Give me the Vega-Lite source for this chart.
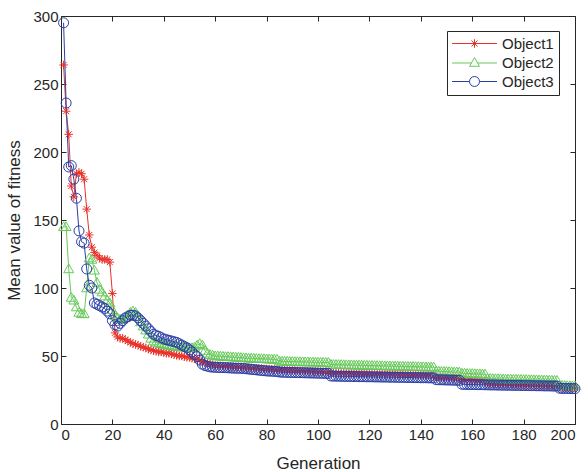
{
"$schema": "https://vega.github.io/schema/vega-lite/v6.json",
"width": 514, "height": 408,
"autosize": "none",
"padding": {"left": 61, "top": 16, "right": 13, "bottom": 48},
"background": "white",
"config": {
  "view": {"stroke": "#262626", "strokeWidth": 1},
  "font": "Liberation Sans",
  "axis": {"grid": false, "domain": false, "tickSize": -5, "tickColor": "#262626", "labelColor": "#262626", "labelFontSize": 15, "titleFontSize": 17, "titleFontWeight": "normal", "titleColor": "#262626", "labelFont": "Liberation Sans", "titleFont": "Liberation Sans"},
  "legend": {"title": null, "orient": "none", "legendX": 386, "legendY": 15, "fillColor": "white", "strokeColor": "#262626", "padding": 5, "labelFontSize": 15, "labelColor": "#262626", "symbolSize": 100, "symbolStrokeWidth": 1, "symbolOpacity": 1, "symbolOffset": 15, "labelOffset": 20, "rowPadding": 3, "cornerRadius": 0}
},
"data": {"values": [
{"g":1,"Object1":264,"Object2":145,"Object3":295},
{"g":2,"Object1":230,"Object2":145,"Object3":236},
{"g":3,"Object1":213,"Object2":114,"Object3":189},
{"g":4,"Object1":175,"Object2":93,"Object3":190},
{"g":5,"Object1":167,"Object2":91,"Object3":180},
{"g":6,"Object1":184,"Object2":86,"Object3":166},
{"g":7,"Object1":185,"Object2":82,"Object3":142},
{"g":8,"Object1":184,"Object2":81,"Object3":134},
{"g":9,"Object1":180,"Object2":81,"Object3":133},
{"g":10,"Object1":158,"Object2":100,"Object3":114},
{"g":11,"Object1":139,"Object2":122,"Object3":102},
{"g":12,"Object1":130,"Object2":121,"Object3":100},
{"g":13,"Object1":126,"Object2":113,"Object3":89},
{"g":14,"Object1":124,"Object2":104,"Object3":88},
{"g":15,"Object1":122,"Object2":99,"Object3":87},
{"g":16,"Object1":121,"Object2":97,"Object3":86},
{"g":17,"Object1":121,"Object2":94,"Object3":85},
{"g":18,"Object1":121,"Object2":91,"Object3":83},
{"g":19,"Object1":119,"Object2":89,"Object3":81},
{"g":20,"Object1":96,"Object2":84,"Object3":76},
{"g":21,"Object1":67,"Object2":80,"Object3":73},
{"g":22,"Object1":64,"Object2":78,"Object3":72},
{"g":23,"Object1":63,"Object2":77,"Object3":74},
{"g":24,"Object1":63,"Object2":77,"Object3":76},
{"g":25,"Object1":62,"Object2":78,"Object3":78},
{"g":26,"Object1":61,"Object2":80,"Object3":79},
{"g":27,"Object1":60,"Object2":82,"Object3":80},
{"g":28,"Object1":59,"Object2":83,"Object3":80},
{"g":29,"Object1":58.5,"Object2":82,"Object3":79.5},
{"g":30,"Object1":58,"Object2":79,"Object3":78},
{"g":31,"Object1":57,"Object2":75,"Object3":76},
{"g":32,"Object1":56.5,"Object2":72,"Object3":74},
{"g":33,"Object1":56,"Object2":69,"Object3":72},
{"g":34,"Object1":55,"Object2":66,"Object3":70},
{"g":35,"Object1":54.5,"Object2":63,"Object3":68},
{"g":36,"Object1":54,"Object2":61,"Object3":66},
{"g":37,"Object1":53.5,"Object2":60,"Object3":65},
{"g":38,"Object1":53,"Object2":59.5,"Object3":64.5},
{"g":39,"Object1":53,"Object2":59,"Object3":63.5},
{"g":40,"Object1":52.5,"Object2":58.5,"Object3":62.5},
{"g":41,"Object1":52,"Object2":58,"Object3":62},
{"g":42,"Object1":52,"Object2":58,"Object3":61.5},
{"g":43,"Object1":51.5,"Object2":57.5,"Object3":61},
{"g":44,"Object1":51,"Object2":57,"Object3":60.5},
{"g":45,"Object1":50.5,"Object2":57,"Object3":60},
{"g":46,"Object1":50,"Object2":57,"Object3":59},
{"g":47,"Object1":50,"Object2":56.5,"Object3":58},
{"g":48,"Object1":49.5,"Object2":56.5,"Object3":57},
{"g":49,"Object1":49,"Object2":56,"Object3":56},
{"g":50,"Object1":49,"Object2":56,"Object3":54.5},
{"g":51,"Object1":48.5,"Object2":56,"Object3":53},
{"g":52,"Object1":48,"Object2":56.5,"Object3":51},
{"g":53,"Object1":47.5,"Object2":58,"Object3":49.5},
{"g":54,"Object1":47,"Object2":59,"Object3":47},
{"g":55,"Object1":46,"Object2":58,"Object3":44},
{"g":56,"Object1":45,"Object2":54,"Object3":43},
{"g":57,"Object1":44.5,"Object2":52,"Object3":42.5},
{"g":58,"Object1":44,"Object2":51,"Object3":42},
{"g":59,"Object1":43.5,"Object2":50.5,"Object3":41.8},
{"g":60,"Object1":43,"Object2":50,"Object3":41.7},
{"g":61,"Object1":43,"Object2":50,"Object3":41.6},
{"g":62,"Object1":42.8,"Object2":49.8,"Object3":41.5},
{"g":63,"Object1":42.7,"Object2":49.7,"Object3":41.5},
{"g":64,"Object1":42.5,"Object2":49.5,"Object3":41.4},
{"g":65,"Object1":42.5,"Object2":49.5,"Object3":41.3},
{"g":66,"Object1":42.3,"Object2":49.3,"Object3":41.2},
{"g":67,"Object1":42.2,"Object2":49.2,"Object3":41.1},
{"g":68,"Object1":42,"Object2":49,"Object3":41},
{"g":69,"Object1":42,"Object2":49,"Object3":41},
{"g":70,"Object1":41.8,"Object2":48.8,"Object3":40.9},
{"g":71,"Object1":41.5,"Object2":48.6,"Object3":40.8},
{"g":72,"Object1":41.5,"Object2":48.5,"Object3":40.6},
{"g":73,"Object1":41.3,"Object2":48.4,"Object3":40.4},
{"g":74,"Object1":41.2,"Object2":48.3,"Object3":40.2},
{"g":75,"Object1":41,"Object2":48.2,"Object3":40},
{"g":76,"Object1":41,"Object2":48.1,"Object3":39.8},
{"g":77,"Object1":40.8,"Object2":48,"Object3":39.6},
{"g":78,"Object1":40.7,"Object2":48,"Object3":39.4},
{"g":79,"Object1":40.5,"Object2":47.9,"Object3":39.2},
{"g":80,"Object1":40.5,"Object2":47.8,"Object3":39},
{"g":81,"Object1":40.4,"Object2":47.7,"Object3":38.9},
{"g":82,"Object1":40.3,"Object2":47.6,"Object3":38.8},
{"g":83,"Object1":40.2,"Object2":47.5,"Object3":38.7},
{"g":84,"Object1":40,"Object2":47.5,"Object3":38.6},
{"g":85,"Object1":40,"Object2":46.2,"Object3":38.2},
{"g":86,"Object1":39.8,"Object2":46.1,"Object3":38.1},
{"g":87,"Object1":39.7,"Object2":46,"Object3":38},
{"g":88,"Object1":39.6,"Object2":46,"Object3":38},
{"g":89,"Object1":39.5,"Object2":45.9,"Object3":37.9},
{"g":90,"Object1":39.5,"Object2":45.9,"Object3":37.9},
{"g":91,"Object1":39.4,"Object2":45.8,"Object3":37.8},
{"g":92,"Object1":39.3,"Object2":45.8,"Object3":37.8},
{"g":93,"Object1":39.2,"Object2":45.7,"Object3":37.7},
{"g":94,"Object1":39,"Object2":45.7,"Object3":37.7},
{"g":95,"Object1":39,"Object2":45.6,"Object3":37.6},
{"g":96,"Object1":38.9,"Object2":45.6,"Object3":37.6},
{"g":97,"Object1":38.8,"Object2":45.5,"Object3":37.5},
{"g":98,"Object1":38.7,"Object2":45.5,"Object3":37.5},
{"g":99,"Object1":38.6,"Object2":45.4,"Object3":37.4},
{"g":100,"Object1":38.5,"Object2":45.4,"Object3":37.4},
{"g":101,"Object1":38.5,"Object2":45.3,"Object3":37.3},
{"g":102,"Object1":38.4,"Object2":45.3,"Object3":37.3},
{"g":103,"Object1":38.4,"Object2":45.2,"Object3":37.2},
{"g":104,"Object1":38.3,"Object2":45.2,"Object3":37.2},
{"g":105,"Object1":37.5,"Object2":43.8,"Object3":35.3},
{"g":106,"Object1":37.4,"Object2":43.7,"Object3":35.2},
{"g":107,"Object1":37.4,"Object2":43.7,"Object3":35.2},
{"g":108,"Object1":37.3,"Object2":43.6,"Object3":35.1},
{"g":109,"Object1":37.3,"Object2":43.6,"Object3":35.1},
{"g":110,"Object1":37.2,"Object2":43.5,"Object3":35},
{"g":111,"Object1":37.2,"Object2":43.5,"Object3":35},
{"g":112,"Object1":37.1,"Object2":43.4,"Object3":35},
{"g":113,"Object1":37.1,"Object2":43.4,"Object3":34.9},
{"g":114,"Object1":37,"Object2":43.3,"Object3":34.9},
{"g":115,"Object1":37,"Object2":43.3,"Object3":34.9},
{"g":116,"Object1":37,"Object2":43.2,"Object3":34.8},
{"g":117,"Object1":36.9,"Object2":43.2,"Object3":34.8},
{"g":118,"Object1":36.9,"Object2":43.1,"Object3":34.8},
{"g":119,"Object1":36.8,"Object2":43.1,"Object3":34.7},
{"g":120,"Object1":36.8,"Object2":43,"Object3":34.7},
{"g":121,"Object1":36.8,"Object2":43,"Object3":34.7},
{"g":122,"Object1":36.7,"Object2":42.9,"Object3":34.6},
{"g":123,"Object1":36.7,"Object2":42.9,"Object3":34.6},
{"g":124,"Object1":36.6,"Object2":42.8,"Object3":34.6},
{"g":125,"Object1":36.6,"Object2":42.8,"Object3":34.5},
{"g":126,"Object1":36.5,"Object2":42.7,"Object3":34.5},
{"g":127,"Object1":36.5,"Object2":42.7,"Object3":34.5},
{"g":128,"Object1":36.5,"Object2":42.6,"Object3":34.4},
{"g":129,"Object1":36.4,"Object2":42.6,"Object3":34.4},
{"g":130,"Object1":36.4,"Object2":42.5,"Object3":34.4},
{"g":131,"Object1":36.3,"Object2":42.5,"Object3":34.3},
{"g":132,"Object1":36.3,"Object2":42.4,"Object3":34.3},
{"g":133,"Object1":36.2,"Object2":42.4,"Object3":34.3},
{"g":134,"Object1":36.2,"Object2":42.3,"Object3":34.2},
{"g":135,"Object1":36.1,"Object2":42.3,"Object3":34.2},
{"g":136,"Object1":36.1,"Object2":42.2,"Object3":34.2},
{"g":137,"Object1":36,"Object2":42.2,"Object3":34.1},
{"g":138,"Object1":36,"Object2":42.1,"Object3":34.1},
{"g":139,"Object1":36,"Object2":42.1,"Object3":34.1},
{"g":140,"Object1":35.9,"Object2":42,"Object3":34},
{"g":141,"Object1":35.9,"Object2":42,"Object3":34},
{"g":142,"Object1":35.8,"Object2":41.9,"Object3":34},
{"g":143,"Object1":35.8,"Object2":41.9,"Object3":33.9},
{"g":144,"Object1":35.7,"Object2":41.8,"Object3":33.9},
{"g":145,"Object1":35.7,"Object2":41.8,"Object3":33.9},
{"g":146,"Object1":34.2,"Object2":38.8,"Object3":32.6},
{"g":147,"Object1":34.1,"Object2":38.7,"Object3":32.5},
{"g":148,"Object1":34,"Object2":38.6,"Object3":32.5},
{"g":149,"Object1":34,"Object2":38.5,"Object3":32.4},
{"g":150,"Object1":33.9,"Object2":38.5,"Object3":32.4},
{"g":151,"Object1":33.9,"Object2":38.4,"Object3":32.3},
{"g":152,"Object1":33.8,"Object2":38.3,"Object3":32.3},
{"g":153,"Object1":33.8,"Object2":38.2,"Object3":32.2},
{"g":154,"Object1":33.7,"Object2":38.2,"Object3":32.2},
{"g":155,"Object1":33.6,"Object2":38.1,"Object3":32.1},
{"g":156,"Object1":32.5,"Object2":37.3,"Object3":29.2},
{"g":157,"Object1":32.4,"Object2":37.2,"Object3":29.1},
{"g":158,"Object1":32.3,"Object2":37.1,"Object3":29.1},
{"g":159,"Object1":32.2,"Object2":37,"Object3":29},
{"g":160,"Object1":32.1,"Object2":37,"Object3":29},
{"g":161,"Object1":32,"Object2":36.9,"Object3":29},
{"g":162,"Object1":31.9,"Object2":36.8,"Object3":28.9},
{"g":163,"Object1":31.8,"Object2":36.8,"Object3":28.9},
{"g":164,"Object1":31.7,"Object2":36.7,"Object3":28.9},
{"g":165,"Object1":31.6,"Object2":36.6,"Object3":28.8},
{"g":166,"Object1":29.8,"Object2":33.5,"Object3":28.8},
{"g":167,"Object1":29.7,"Object2":33.4,"Object3":28.7},
{"g":168,"Object1":29.6,"Object2":33.3,"Object3":28.7},
{"g":169,"Object1":29.5,"Object2":33.2,"Object3":28.7},
{"g":170,"Object1":29.4,"Object2":33.2,"Object3":28.6},
{"g":171,"Object1":29.4,"Object2":33.1,"Object3":28.6},
{"g":172,"Object1":29.3,"Object2":33,"Object3":28.6},
{"g":173,"Object1":29.2,"Object2":33,"Object3":28.5},
{"g":174,"Object1":29.2,"Object2":32.9,"Object3":28.5},
{"g":175,"Object1":29.1,"Object2":32.9,"Object3":28.5},
{"g":176,"Object1":29,"Object2":32.8,"Object3":28.4},
{"g":177,"Object1":29,"Object2":32.8,"Object3":28.4},
{"g":178,"Object1":28.9,"Object2":32.7,"Object3":28.4},
{"g":179,"Object1":28.9,"Object2":32.7,"Object3":28.3},
{"g":180,"Object1":28.8,"Object2":32.6,"Object3":28.3},
{"g":181,"Object1":28.8,"Object2":32.6,"Object3":28.3},
{"g":182,"Object1":28.7,"Object2":32.5,"Object3":28.2},
{"g":183,"Object1":28.7,"Object2":32.5,"Object3":28.2},
{"g":184,"Object1":28.6,"Object2":32.4,"Object3":28.2},
{"g":185,"Object1":28.6,"Object2":32.4,"Object3":28.1},
{"g":186,"Object1":28.5,"Object2":32.3,"Object3":28.1},
{"g":187,"Object1":28.5,"Object2":32.3,"Object3":28.1},
{"g":188,"Object1":28.4,"Object2":32.2,"Object3":28},
{"g":189,"Object1":28.4,"Object2":32.2,"Object3":28},
{"g":190,"Object1":28.3,"Object2":32.1,"Object3":28},
{"g":191,"Object1":28.3,"Object2":32.1,"Object3":27.9},
{"g":192,"Object1":28.2,"Object2":32,"Object3":27.9},
{"g":193,"Object1":28.2,"Object2":32,"Object3":27.9},
{"g":194,"Object1":27,"Object2":28.4,"Object3":26.3},
{"g":195,"Object1":26.9,"Object2":28.3,"Object3":26.2},
{"g":196,"Object1":26.8,"Object2":28.2,"Object3":26.2},
{"g":197,"Object1":26.7,"Object2":28.1,"Object3":26.1},
{"g":198,"Object1":26.6,"Object2":28,"Object3":26.1},
{"g":199,"Object1":26.5,"Object2":27.9,"Object3":26},
{"g":200,"Object1":26.5,"Object2":27.9,"Object3":26}
]},
"transform": [{"fold": ["Object1", "Object2", "Object3"], "as": ["series", "value"]}],
"layer": [
  {
    "mark": {"type": "line", "strokeWidth": 1},
    "encoding": {
      "x": {"field": "g", "type": "quantitative", "scale": {"domain": [0, 200], "nice": false}, "axis": {"orient": "bottom", "values": [0,20,40,60,80,100,120,140,160,180,200], "title": "Generation", "labelPadding": 8, "titlePadding": 13}},
      "y": {"field": "value", "type": "quantitative", "scale": {"domain": [0, 300], "nice": false}, "axis": {"orient": "left", "values": [0,50,100,150,200,250,300], "title": "Mean value of fitness", "labelPadding": 8, "titlePadding": 9}},
      "color": {"field": "series", "type": "nominal", "scale": {"domain": ["Object1", "Object2", "Object3"], "range": ["#E8322A", "#66C95A", "#2A3FA6"]}, "legend": {"title": null}}
    }
  },
  {
    "mark": {"type": "point", "filled": false, "size": 100, "strokeWidth": 1, "opacity": 0},
    "encoding": {
      "x": {"field": "g", "type": "quantitative", "scale": {"domain": [0, 200], "nice": false}, "axis": {"orient": "top", "values": [0,20,40,60,80,100,120,140,160,180,200], "labels": false, "title": null}},
      "y": {"field": "value", "type": "quantitative", "scale": {"domain": [0, 300], "nice": false}, "axis": {"orient": "right", "values": [0,50,100,150,200,250,300], "labels": false, "title": null}},
      "color": {"field": "series", "type": "nominal", "scale": {"domain": ["Object1", "Object2", "Object3"], "range": ["#E8322A", "#66C95A", "#2A3FA6"]}, "legend": {"title": null}},
      "shape": {"field": "series", "type": "nominal", "scale": {"domain": ["Object1", "Object2", "Object3"], "range": ["M-4.5,0L4.5,0M-0.85,0L0.85,0M0,-0.85L0,0.85M-0.6,-0.6L0.6,0.6M-0.6,0.6L0.6,-0.6", "M-4.5,0.1L-0.6,0.1M0.6,0.1L4.5,0.1M0,-1L1,0.75L-1,0.75Z", "M-4.5,0L-1,0M1,0L4.5,0M1,0A1,1,0,1,1,-1,0A1,1,0,1,1,1,0"]}, "legend": {"title": null}}
    }
  },
  {
    "transform": [{"filter": "datum.series === 'Object1'"}],
    "mark": {"type": "point", "filled": false, "size": 100, "strokeWidth": 1, "opacity": 1, "color": "#E8322A", "shape": "M-0.85,0L0.85,0M0,-0.85L0,0.85M-0.6,-0.6L0.6,0.6M-0.6,0.6L0.6,-0.6"},
    "encoding": {
      "x": {"field": "g", "type": "quantitative", "axis": null},
      "y": {"field": "value", "type": "quantitative", "axis": null}
    }
  },
  {
    "transform": [{"filter": "datum.series === 'Object2'"}],
    "mark": {"type": "point", "filled": false, "size": 100, "strokeWidth": 1, "opacity": 1, "color": "#66C95A", "shape": "M0,-1L1,0.75L-1,0.75Z"},
    "encoding": {
      "x": {"field": "g", "type": "quantitative", "axis": null},
      "y": {"field": "value", "type": "quantitative", "axis": null}
    }
  },
  {
    "transform": [{"filter": "datum.series === 'Object3'"}],
    "mark": {"type": "point", "filled": false, "size": 100, "strokeWidth": 1, "opacity": 1, "color": "#2A3FA6", "shape": "circle"},
    "encoding": {
      "x": {"field": "g", "type": "quantitative", "axis": null},
      "y": {"field": "value", "type": "quantitative", "axis": null}
    }
  }
],
"resolve": {"axis": {"x": "independent", "y": "independent"}}
}
